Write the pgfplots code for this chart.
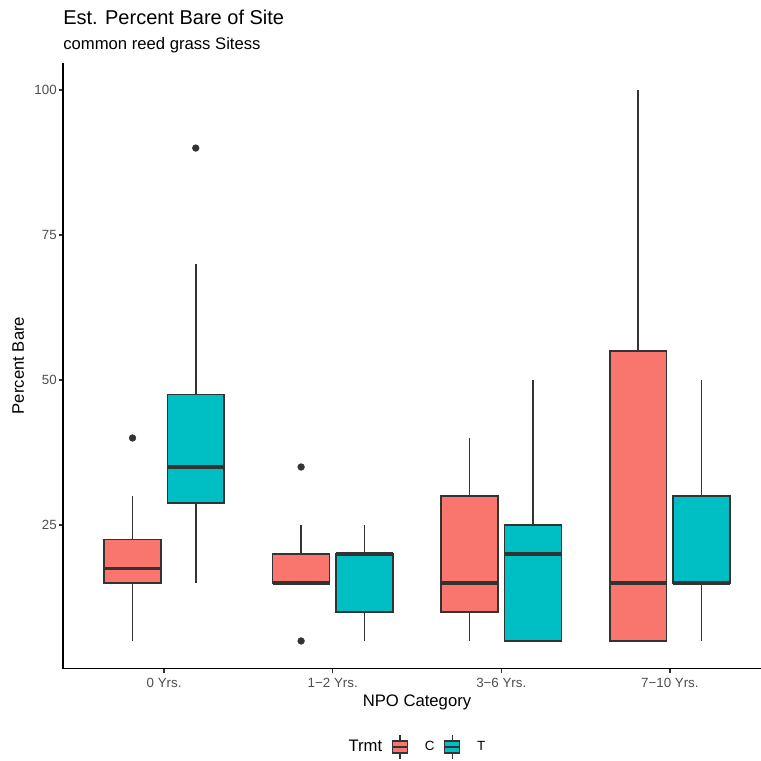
\documentclass[border=0pt]{standalone}
\usepackage{pgfplots}
\pgfplotsset{compat=1.18}
\usepackage{fontspec}
\setmainfont{Liberation Sans}
\definecolor{cC}{HTML}{F8766D}
\definecolor{cT}{HTML}{00BFC4}
\definecolor{g20}{HTML}{333333}
\definecolor{g30}{HTML}{4D4D4D}
% box: left edge, centre, right edge, lower whisker, Q1, median, Q3, upper whisker, fill colour
\newcommand{\bx}[9]{%
  \addplot[g20, line width=1.1pt, forget plot] coordinates {(#2,#4) (#2,#5)};
  \addplot[g20, line width=1.1pt, forget plot] coordinates {(#2,#7) (#2,#8)};
  \addplot[fill=#9, draw=g20, line width=1.1pt, forget plot] coordinates {(#1,#5) (#3,#5) (#3,#7) (#1,#7)} -- cycle;
  \addplot[g20, line width=2.2pt, forget plot] coordinates {(#1,#6) (#3,#6)};
}
\begin{document}
\begin{tikzpicture}
\useasboundingbox (0,0) rectangle (547.92pt,547.2pt);
\begin{axis}[
  at={(45.36pt,65.88pt)}, anchor=south west,
  scale only axis, width=509.76pt, height=436.32pt,
  xmin=0.4, xmax=4.6, ymin=0.25, ymax=104.75,
  axis x line*=bottom, axis y line*=left,
  axis line style={black, line width=1.1pt, -},
  xtick={1,2,3,4},
  xticklabels={0 Yrs., 1−2 Yrs., 3−6 Yrs., 7−10 Yrs.},
  ytick={25,50,75,100},
  tick align=outside, major tick length=3pt,
  tick style={g20, line width=1.1pt},
  /pgf/number format/assume math mode=true,
  ticklabel style={font=\fontsize{9.6}{11}\selectfont, text=g30},
  yticklabel style={xshift=2pt},
  xticklabel style={yshift=-0.5pt},
  xlabel={NPO Category}, ylabel={Percent Bare},
  label style={font=\fontsize{12}{14}\selectfont},
  xlabel style={at={(axis description cs:0.5,-0.0635)}, anchor=base},
  ylabel style={at={(axis description cs:-0.0551,0.5)}, anchor=base},
  legend style={at={(axis description cs:0.490,-0.1295)}, anchor=center,
    draw=none, fill=none, font=\fontsize{9.6}{11}\selectfont,
    /tikz/every odd column/.append style={column sep=10pt},
    /tikz/every even column/.append style={column sep=5pt}},
  legend columns=-1,
  clip=false,
]
% C series
\bx{0.64375}{0.8125}{0.98125}{5}{15}{17.5}{22.5}{30}{cC}
\bx{1.64375}{1.8125}{1.98125}{15}{15}{15}{20}{25}{cC}
\bx{2.64375}{2.8125}{2.98125}{5}{10}{15}{30}{40}{cC}
\bx{3.64375}{3.8125}{3.98125}{5}{5}{15}{55}{100}{cC}
% T series
\bx{1.01875}{1.1875}{1.35625}{15}{28.75}{35}{47.5}{70}{cT}
\bx{2.01875}{2.1875}{2.35625}{5}{10}{20}{20}{25}{cT}
\bx{3.01875}{3.1875}{3.35625}{5}{5}{20}{25}{50}{cT}
\bx{4.01875}{4.1875}{4.35625}{5}{15}{15}{30}{50}{cT}
% outliers
\addplot[only marks, mark=*, mark size=2.4pt, g20, forget plot] coordinates {(0.8125,40) (1.1875,90) (1.8125,35) (1.8125,5)};
% legend
\addlegendimage{empty legend}
\addlegendentry[font=\fontsize{12}{14}\selectfont]{Trmt}
\addlegendimage{legend image code/.code={
  \draw[g20, line width=0.9pt] (5.4pt,-8.6pt) -- (5.4pt,8.6pt);
  \draw[g20, line width=0.9pt, fill=cC] (0pt,-4.3pt) rectangle (10.8pt,4.3pt);
  \draw[g20, line width=0.9pt] (0pt,0pt) -- (10.8pt,0pt);}}
\addlegendentry{C}
\addlegendimage{legend image code/.code={
  \draw[g20, line width=0.9pt] (5.4pt,-8.6pt) -- (5.4pt,8.6pt);
  \draw[g20, line width=0.9pt, fill=cT] (0pt,-4.3pt) rectangle (10.8pt,4.3pt);
  \draw[g20, line width=0.9pt] (0pt,0pt) -- (10.8pt,0pt);}}
\addlegendentry{T}
\end{axis}
\node[anchor=base west, inner sep=0pt, font=\fontsize{14.4}{17}\selectfont] at (45.36pt,529.9pt) {Est. Percent Bare of Site};
\node[anchor=base west, inner sep=0pt, font=\fontsize{12}{14}\selectfont] at (45.36pt,511.2pt) {common reed grass Sitess};
\end{tikzpicture}
\end{document}
